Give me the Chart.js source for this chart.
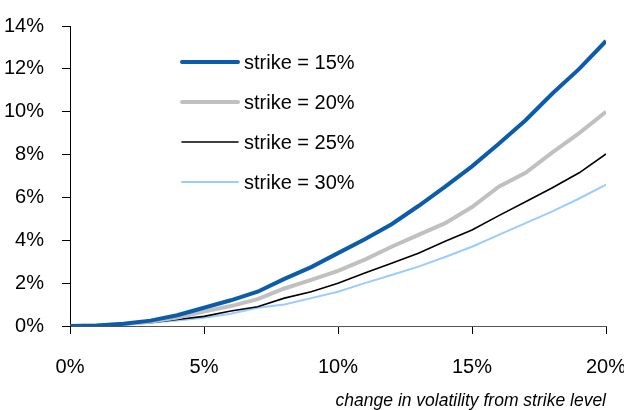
<!DOCTYPE html>
<html>
<head>
<meta charset="utf-8">
<script src="https://cdn.jsdelivr.net/npm/chart.js@4.4.1/dist/chart.umd.min.js"></script>
<style>
  html, body { margin: 0; padding: 0; background: #fff; }
  #wrap { width: 624px; height: 410px; position: relative; }
</style>
</head>
<body>
<div id="wrap"><canvas id="c" width="624" height="410"></canvas></div>
<script>
// change in volatility from strike level (%)
const volChange = [0,1,2,3,4,5,6,7,8,9,10,11,12,13,14,15,16,17,18,19,20];
const seriesNames = ['strike = 15%', 'strike = 20%', 'strike = 25%', 'strike = 30%'];
const strike15 = [0,0.02,0.1,0.25,0.5,0.85,1.2,1.6,2.2,2.75,3.4,4.05,4.75,5.6,6.5,7.45,8.5,9.6,10.85,12.0,13.3];
const strike20 = [0,0.02,0.08,0.2,0.4,0.67,0.93,1.25,1.75,2.15,2.57,3.1,3.7,4.25,4.8,5.55,6.5,7.15,8.1,9.0,10.0];
const strike25 = [0,0.02,0.07,0.15,0.3,0.45,0.7,0.9,1.3,1.6,2.0,2.47,2.93,3.4,3.95,4.48,5.15,5.8,6.45,7.15,8.03];
const strike30 = [0,0.02,0.07,0.15,0.26,0.38,0.57,0.85,1.0,1.3,1.6,2.0,2.38,2.77,3.22,3.7,4.25,4.8,5.35,5.95,6.6];
const yTicks = [0,2,4,6,8,10,12,14];
const xTicks = [0,5,10,15,20];
const xTitle = 'change in volatility from strike level';

const colors = ['#0B5CAB', '#C0C0C0', '#000000', '#99CCFF'];
const widths = [4, 4, 1.6, 2];
const allSeries = [strike15, strike20, strike25, strike30];

const tickFont = { family: "'Liberation Sans', Arial, sans-serif", size: 20 };

const legendPlugin = {
  id: 'insideLegend',
  afterDraw(chart) {
    const ctx = chart.ctx;
    ctx.save();
    chart.data.datasets.forEach((ds, i) => {
      const y = 62 + 40 * i;
      ctx.beginPath();
      ctx.strokeStyle = ds.borderColor;
      ctx.lineWidth = ds.borderWidth;
      ctx.lineCap = 'round';
      ctx.moveTo(182, y);
      ctx.lineTo(238, y);
      ctx.stroke();
      ctx.fillStyle = '#000';
      ctx.font = "20px 'Liberation Sans', Arial, sans-serif";
      ctx.textAlign = 'left';
      ctx.textBaseline = 'middle';
      ctx.fillText(ds.label, 244, y + 1);
    });
    ctx.restore();
  }
};

new Chart(document.getElementById('c'), {
  type: 'line',
  data: {
    datasets: allSeries.map((s, i) => ({
      label: seriesNames[i],
      data: volChange.map((x, j) => ({ x: x, y: s[j] })),
      borderColor: colors[i],
      backgroundColor: colors[i],
      borderWidth: widths[i],
      pointRadius: 0,
      tension: 0,
      fill: false
    }))
  },
  options: {
    responsive: false,
    animation: false,
    layout: { padding: { top: 26, right: 18, left: 0, bottom: 0 } },
    plugins: { legend: { display: false }, tooltip: { enabled: false } },
    scales: {
      x: {
        type: 'linear',
        min: 0, max: 20,
        afterFit(scale) { scale.height = 84; scale.paddingLeft = 0; scale.paddingRight = 0; },
        afterBuildTicks(scale) { scale.ticks = xTicks.map(v => ({ value: v })); },
        ticks: {
          font: tickFont, color: '#000', padding: 21, maxRotation: 0,
          callback: v => v + '%'
        },
        grid: { drawOnChartArea: false, drawTicks: true, tickLength: 8, color: '#000', lineWidth: 1 },
        border: { color: '#555', width: 1 },
        title: {
          display: true, text: xTitle, align: 'end', color: '#000',
          font: { family: "'Liberation Sans', Arial, sans-serif", size: 17.5, style: 'italic', lineHeight: 1.1 },
          padding: { top: 0, bottom: -1 }
        }
      },
      y: {
        min: 0, max: 14,
        afterFit(scale) { scale.width = 70; scale.paddingTop = 0; scale.paddingBottom = 0; },
        afterBuildTicks(scale) { scale.ticks = yTicks.map(v => ({ value: v })); },
        ticks: {
          font: tickFont, color: '#000', padding: 18,
          callback: v => v + '%'
        },
        grid: { drawOnChartArea: false, drawTicks: true, tickLength: 8, color: '#000', lineWidth: 1 },
        border: { color: '#000', width: 1 }
      }
    }
  },
  plugins: [legendPlugin]
});
</script>
</body>
</html>
